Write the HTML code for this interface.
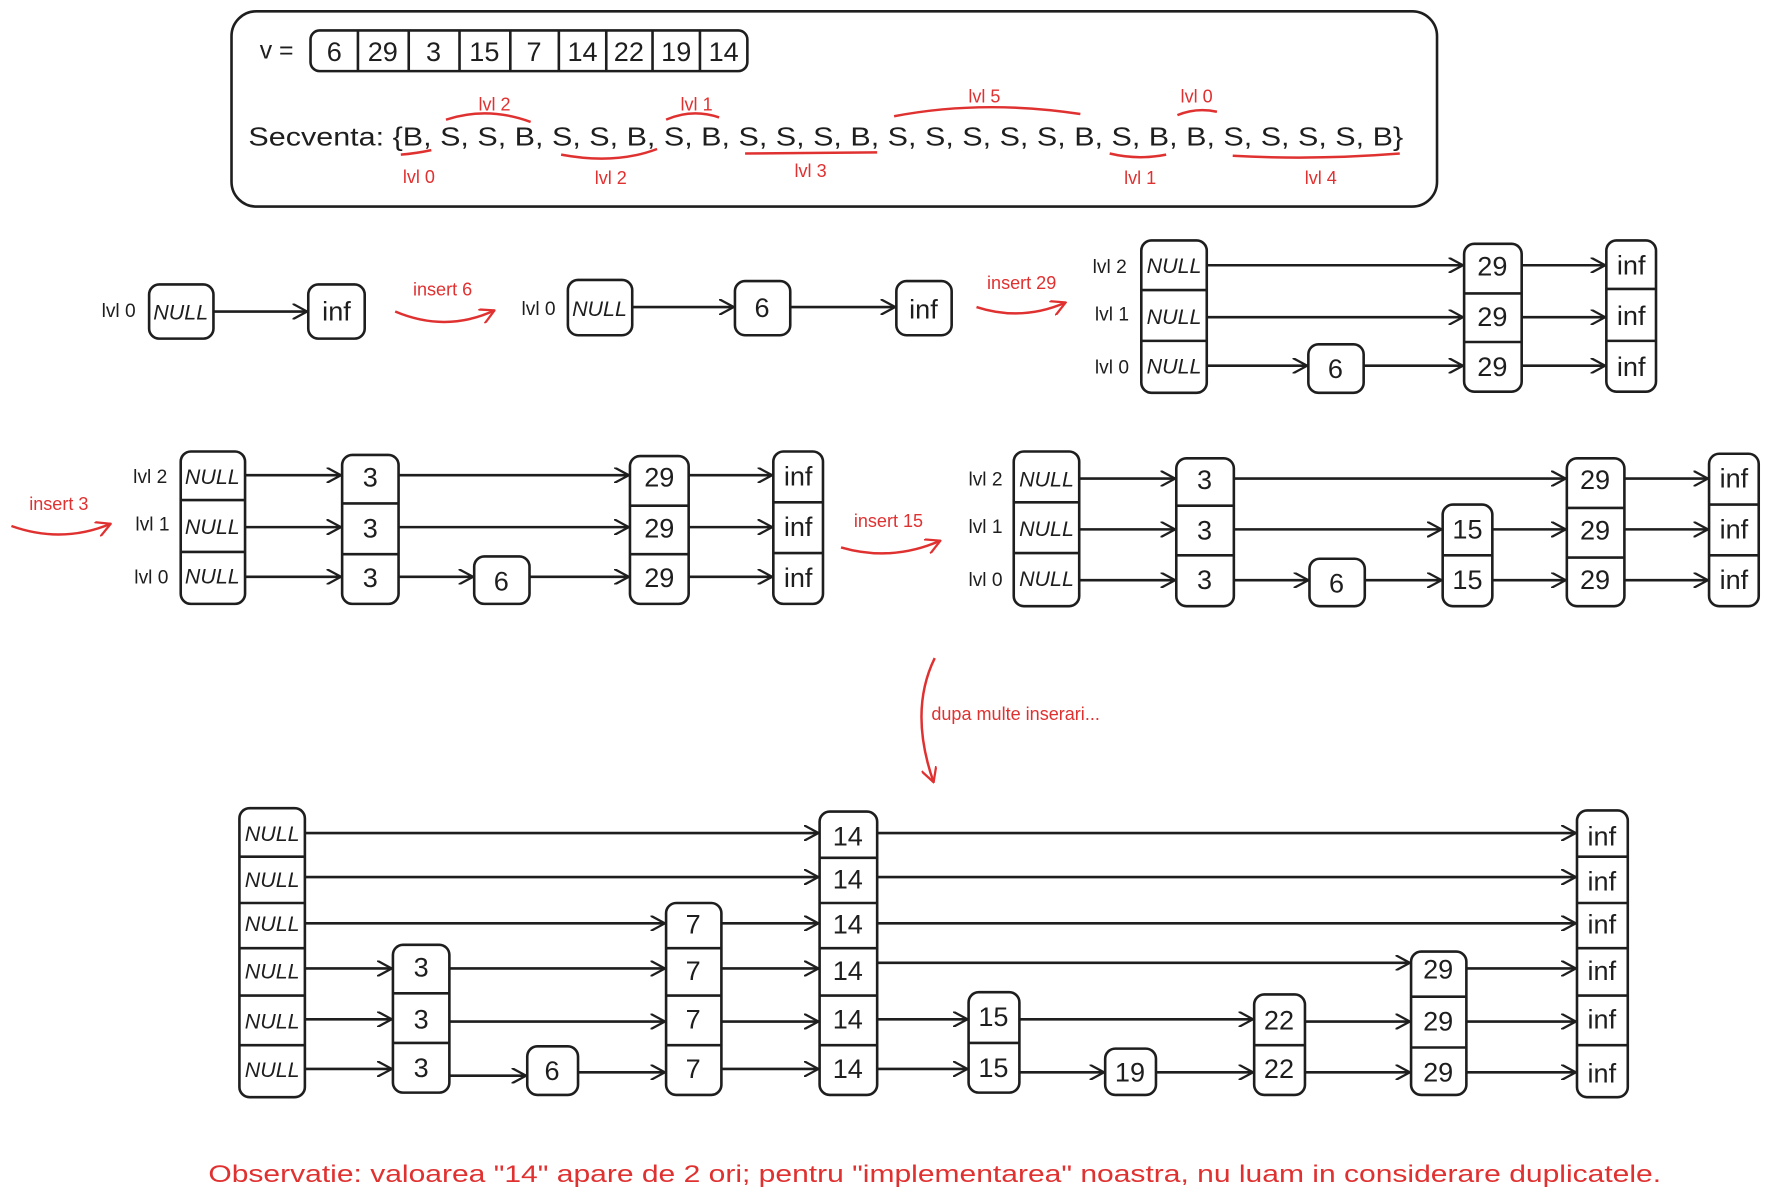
<!DOCTYPE html>
<html><head><meta charset="utf-8"><style>
html,body{margin:0;padding:0;background:#fff;}
svg{display:block;}
text{font-family:"Liberation Sans",sans-serif;fill:#1e1e1e;}
.r{fill:#e03131;}
.n{font-size:24px;text-anchor:middle;}
.nl{font-size:19px;text-anchor:middle;font-style:italic;}
.l{font-size:17px;text-anchor:middle;}
.rl{font-size:16px;text-anchor:middle;fill:#e03131;}
</style></head><body>
<svg id="s" width="1769" height="1201" viewBox="0 0 1567 1064" xmlns="http://www.w3.org/2000/svg">
<defs>
<marker id="a" viewBox="0 0 14 14" refX="13" refY="7" markerWidth="14" markerHeight="14" markerUnits="userSpaceOnUse" orient="auto"><path d="M0,0 L13,7 L0,14" fill="none" stroke="#1e1e1e" stroke-width="2"/></marker>
<marker id="ar" viewBox="0 0 14 14" refX="13" refY="7" markerWidth="14" markerHeight="14" markerUnits="userSpaceOnUse" orient="auto"><path d="M0,0 L13,7 L0,14" fill="none" stroke="#e03131" stroke-width="2"/></marker>
</defs>
<g id="g" fill="none" stroke="#1e1e1e" stroke-width="2.3"></g>
<g fill="none" stroke="#e03131" stroke-width="2.2">
<path d="M395,106 Q432,94 470,108"/><path d="M590,106 Q613,96 637,104"/><path d="M792,103 Q870,88 957,101"/><path d="M1043,102 Q1060,95 1078,99"/>
<path d="M355,137 Q368,136 382,133"/><path d="M497,137 Q545,146 582,132"/><path d="M660,136 L777,135"/><path d="M983,136 Q1008,142 1033,137"/><path d="M1092,138 Q1165,142 1240,136"/>
<path d="M350,276 Q395,295 438,275" marker-end="url(#ar)"/>
<path d="M865,272 Q905,285 944,268" marker-end="url(#ar)"/>
<path d="M10,466 Q55,482 98,464" marker-end="url(#ar)"/>
<path d="M745,485 Q790,498 833,479" marker-end="url(#ar)"/>
<path d="M828,583 Q805,630 827,693" marker-end="url(#ar)"/>
</g>
<text x="230" y="52" font-size="22">v =</text>
<text x="296" y="54" class="n">6</text><text x="339" y="54" class="n">29</text><text x="384" y="54" class="n">3</text><text x="429" y="54" class="n">15</text><text x="473" y="54" class="n">7</text><text x="516" y="54" class="n">14</text><text x="557" y="54" class="n">22</text><text x="599" y="54" class="n">19</text><text x="641" y="54" class="n">14</text>
<text x="220" y="129" font-size="23" textLength="1023" lengthAdjust="spacingAndGlyphs">Secventa: {B, S, S, B, S, S, B, S, B, S, S, S, B, S, S, S, S, S, B, S, B, B, S, S, S, S, B}</text>
<text x="438" y="98" class="rl">lvl 2</text><text x="617" y="98" class="rl">lvl 1</text><text x="872" y="91" class="rl">lvl 5</text><text x="1060" y="91" class="rl">lvl 0</text>
<text x="371" y="162" class="rl">lvl 0</text><text x="541" y="163" class="rl">lvl 2</text><text x="718" y="157" class="rl">lvl 3</text><text x="1010" y="163" class="rl">lvl 1</text><text x="1170" y="163" class="rl">lvl 4</text>
<text x="392" y="262" class="rl">insert 6</text><text x="905" y="256" class="rl">insert 29</text><text x="52" y="452" class="rl">insert 3</text><text x="787" y="467" class="rl">insert 15</text>
<text x="825" y="638" font-size="16" class="r">dupa multe inserari...</text>
<text x="828" y="1047" font-size="21" text-anchor="middle" class="r" textLength="1287" lengthAdjust="spacingAndGlyphs">Observatie: valoarea "14" apare de 2 ori; pentru "implementarea" noastra, nu luam in considerare duplicatele.</text>
<text x="105" y="281" class="l">lvl 0</text><text x="160" y="283" class="nl">NULL</text><text x="298" y="284" class="n">inf</text>
<text x="477" y="279" class="l">lvl 0</text><text x="531" y="280" class="nl">NULL</text><text x="675" y="281" class="n">6</text><text x="818" y="282" class="n">inf</text>
<text x="983" y="242" class="l">lvl 2</text><text x="985" y="284" class="l">lvl 1</text><text x="985" y="331" class="l">lvl 0</text>
<text x="1040" y="242" class="nl">NULL</text><text x="1040" y="287" class="nl">NULL</text><text x="1040" y="331" class="nl">NULL</text>
<text x="1183" y="335" class="n">6</text>
<text x="1322" y="244" class="n">29</text><text x="1322" y="289" class="n">29</text><text x="1322" y="333" class="n">29</text>
<text x="1445" y="243" class="n">inf</text><text x="1445" y="288" class="n">inf</text><text x="1445" y="333" class="n">inf</text>
<text x="133" y="428" class="l">lvl 2</text><text x="135" y="470" class="l">lvl 1</text><text x="134" y="517" class="l">lvl 0</text>
<text x="188" y="429" class="nl">NULL</text><text x="188" y="473" class="nl">NULL</text><text x="188" y="517" class="nl">NULL</text>
<text x="328" y="431" class="n">3</text><text x="328" y="476" class="n">3</text><text x="328" y="520" class="n">3</text>
<text x="444" y="523" class="n">6</text>
<text x="584" y="431" class="n">29</text><text x="584" y="476" class="n">29</text><text x="584" y="520" class="n">29</text>
<text x="707" y="430" class="n">inf</text><text x="707" y="475" class="n">inf</text><text x="707" y="520" class="n">inf</text>
<text x="873" y="430" class="l">lvl 2</text><text x="873" y="472" class="l">lvl 1</text><text x="873" y="519" class="l">lvl 0</text>
<text x="927" y="431" class="nl">NULL</text><text x="927" y="475" class="nl">NULL</text><text x="927" y="519" class="nl">NULL</text>
<text x="1067" y="433" class="n">3</text><text x="1067" y="478" class="n">3</text><text x="1067" y="522" class="n">3</text>
<text x="1184" y="525" class="n">6</text>
<text x="1300" y="477" class="n">15</text><text x="1300" y="522" class="n">15</text>
<text x="1413" y="433" class="n">29</text><text x="1413" y="478" class="n">29</text><text x="1413" y="522" class="n">29</text>
<text x="1536" y="432" class="n">inf</text><text x="1536" y="477" class="n">inf</text><text x="1536" y="522" class="n">inf</text>
<text x="241" y="745" class="nl">NULL</text><text x="241" y="786" class="nl">NULL</text><text x="241" y="825" class="nl">NULL</text><text x="241" y="867" class="nl">NULL</text><text x="241" y="911" class="nl">NULL</text><text x="241" y="954" class="nl">NULL</text>
<text x="373" y="865" class="n">3</text><text x="373" y="911" class="n">3</text><text x="373" y="954" class="n">3</text>
<text x="489" y="957" class="n">6</text>
<text x="614" y="827" class="n">7</text><text x="614" y="868" class="n">7</text><text x="614" y="911" class="n">7</text><text x="614" y="955" class="n">7</text>
<text x="751" y="749" class="n">14</text><text x="751" y="787" class="n">14</text><text x="751" y="827" class="n">14</text><text x="751" y="868" class="n">14</text><text x="751" y="911" class="n">14</text><text x="751" y="955" class="n">14</text>
<text x="880" y="909" class="n">15</text><text x="880" y="954" class="n">15</text>
<text x="1001" y="958" class="n">19</text>
<text x="1133" y="912" class="n">22</text><text x="1133" y="955" class="n">22</text>
<text x="1274" y="867" class="n">29</text><text x="1274" y="913" class="n">29</text><text x="1274" y="958" class="n">29</text>
<text x="1419" y="749" class="n">inf</text><text x="1419" y="789" class="n">inf</text><text x="1419" y="827" class="n">inf</text><text x="1419" y="868" class="n">inf</text><text x="1419" y="911" class="n">inf</text><text x="1419" y="959" class="n">inf</text>
</svg>
<script>
var g=document.getElementById('g'),NS='http://www.w3.org/2000/svg';
function el(t,a){var e=document.createElementNS(NS,t);for(var k in a)e.setAttribute(k,a[k]);g.appendChild(e);}
function col(x1,x2,ys,r){el('rect',{x:x1,y:ys[0],width:x2-x1,height:ys[ys.length-1]-ys[0],rx:r||9});for(var i=1;i<ys.length-1;i++)el('line',{x1:x1,x2:x2,y1:ys[i],y2:ys[i]});}
function ar(x1,x2,y){el('line',{x1:x1,x2:x2,y1:y,y2:y,'marker-end':'url(#a)'});}
el('rect',{x:205,y:10,width:1068,height:173,rx:22});
col(275,662,[27,63],8);
[317,362,407,452,495,537,578,620].forEach(function(x){el('line',{x1:x,x2:x,y1:27,y2:63});});
col(132,189,[252,300]);col(273,323,[252,300]);ar(189,272,276);
col(503,560,[248,297]);col(651,700,[249,297]);col(794,843,[249,297]);ar(560,650,272);ar(700,793,272);
col(1011,1069,[213,257,302,348]);col(1159,1208,[305,348]);col(1297,1348,[216,260,303,347]);col(1423,1467,[213,256,302,347]);
ar(1069,1296,235);ar(1348,1422,235);ar(1069,1296,281);ar(1348,1422,281);ar(1069,1158,324);ar(1208,1296,324);ar(1348,1422,324);
col(160,217,[400,443,489,535]);col(303,353,[403,446,491,535]);col(420,469,[493,535]);col(558,610,[404,448,491,535]);col(685,729,[400,445,490,535]);
ar(217,302,421);ar(353,557,421);ar(610,684,421);
ar(217,302,467);ar(353,557,467);ar(610,684,467);
ar(217,302,511);ar(353,419,511);ar(469,557,511);ar(610,684,511);
col(898,956,[400,445,490,537]);col(1042,1093,[406,448,492,537]);col(1160,1209,[495,537]);col(1278,1322,[447,492,537]);col(1388,1439,[406,450,494,537]);col(1514,1558,[402,447,492,537]);
ar(956,1041,424);ar(1093,1387,424);ar(1439,1513,424);
ar(956,1041,469);ar(1093,1277,469);ar(1322,1387,469);ar(1439,1513,469);
ar(956,1041,514);ar(1093,1159,514);ar(1209,1277,514);ar(1322,1387,514);ar(1439,1513,514);
col(212,270,[716,759,800,840,882,926,972]);col(348,398,[837,880,924,968]);col(467,512,[927,970]);col(590,639,[800,840,882,926,970]);
col(726,777,[719,760,800,840,882,926,970]);col(858,903,[879,924,968]);col(979,1024,[929,970]);col(1111,1156,[881,926,970]);col(1250,1299,[843,883,928,970]);
col(1397,1442,[718,759,800,840,882,926,972]);
ar(270,725,738);ar(777,1396,738);
ar(270,725,777);ar(777,1396,777);
ar(270,589,818);ar(639,725,818);ar(777,1396,818);
ar(270,347,858);ar(398,589,858);ar(639,725,858);ar(777,1249,853);ar(1299,1396,858);
ar(270,347,903);ar(398,589,905);ar(639,725,905);ar(777,857,903);ar(903,1110,903);ar(1156,1249,905);ar(1299,1396,905);
ar(270,347,947);ar(398,466,953);ar(512,589,950);ar(639,725,947);ar(777,857,947);ar(903,978,950);ar(1024,1110,950);ar(1156,1249,950);ar(1299,1396,950);
</script>
</body></html>
